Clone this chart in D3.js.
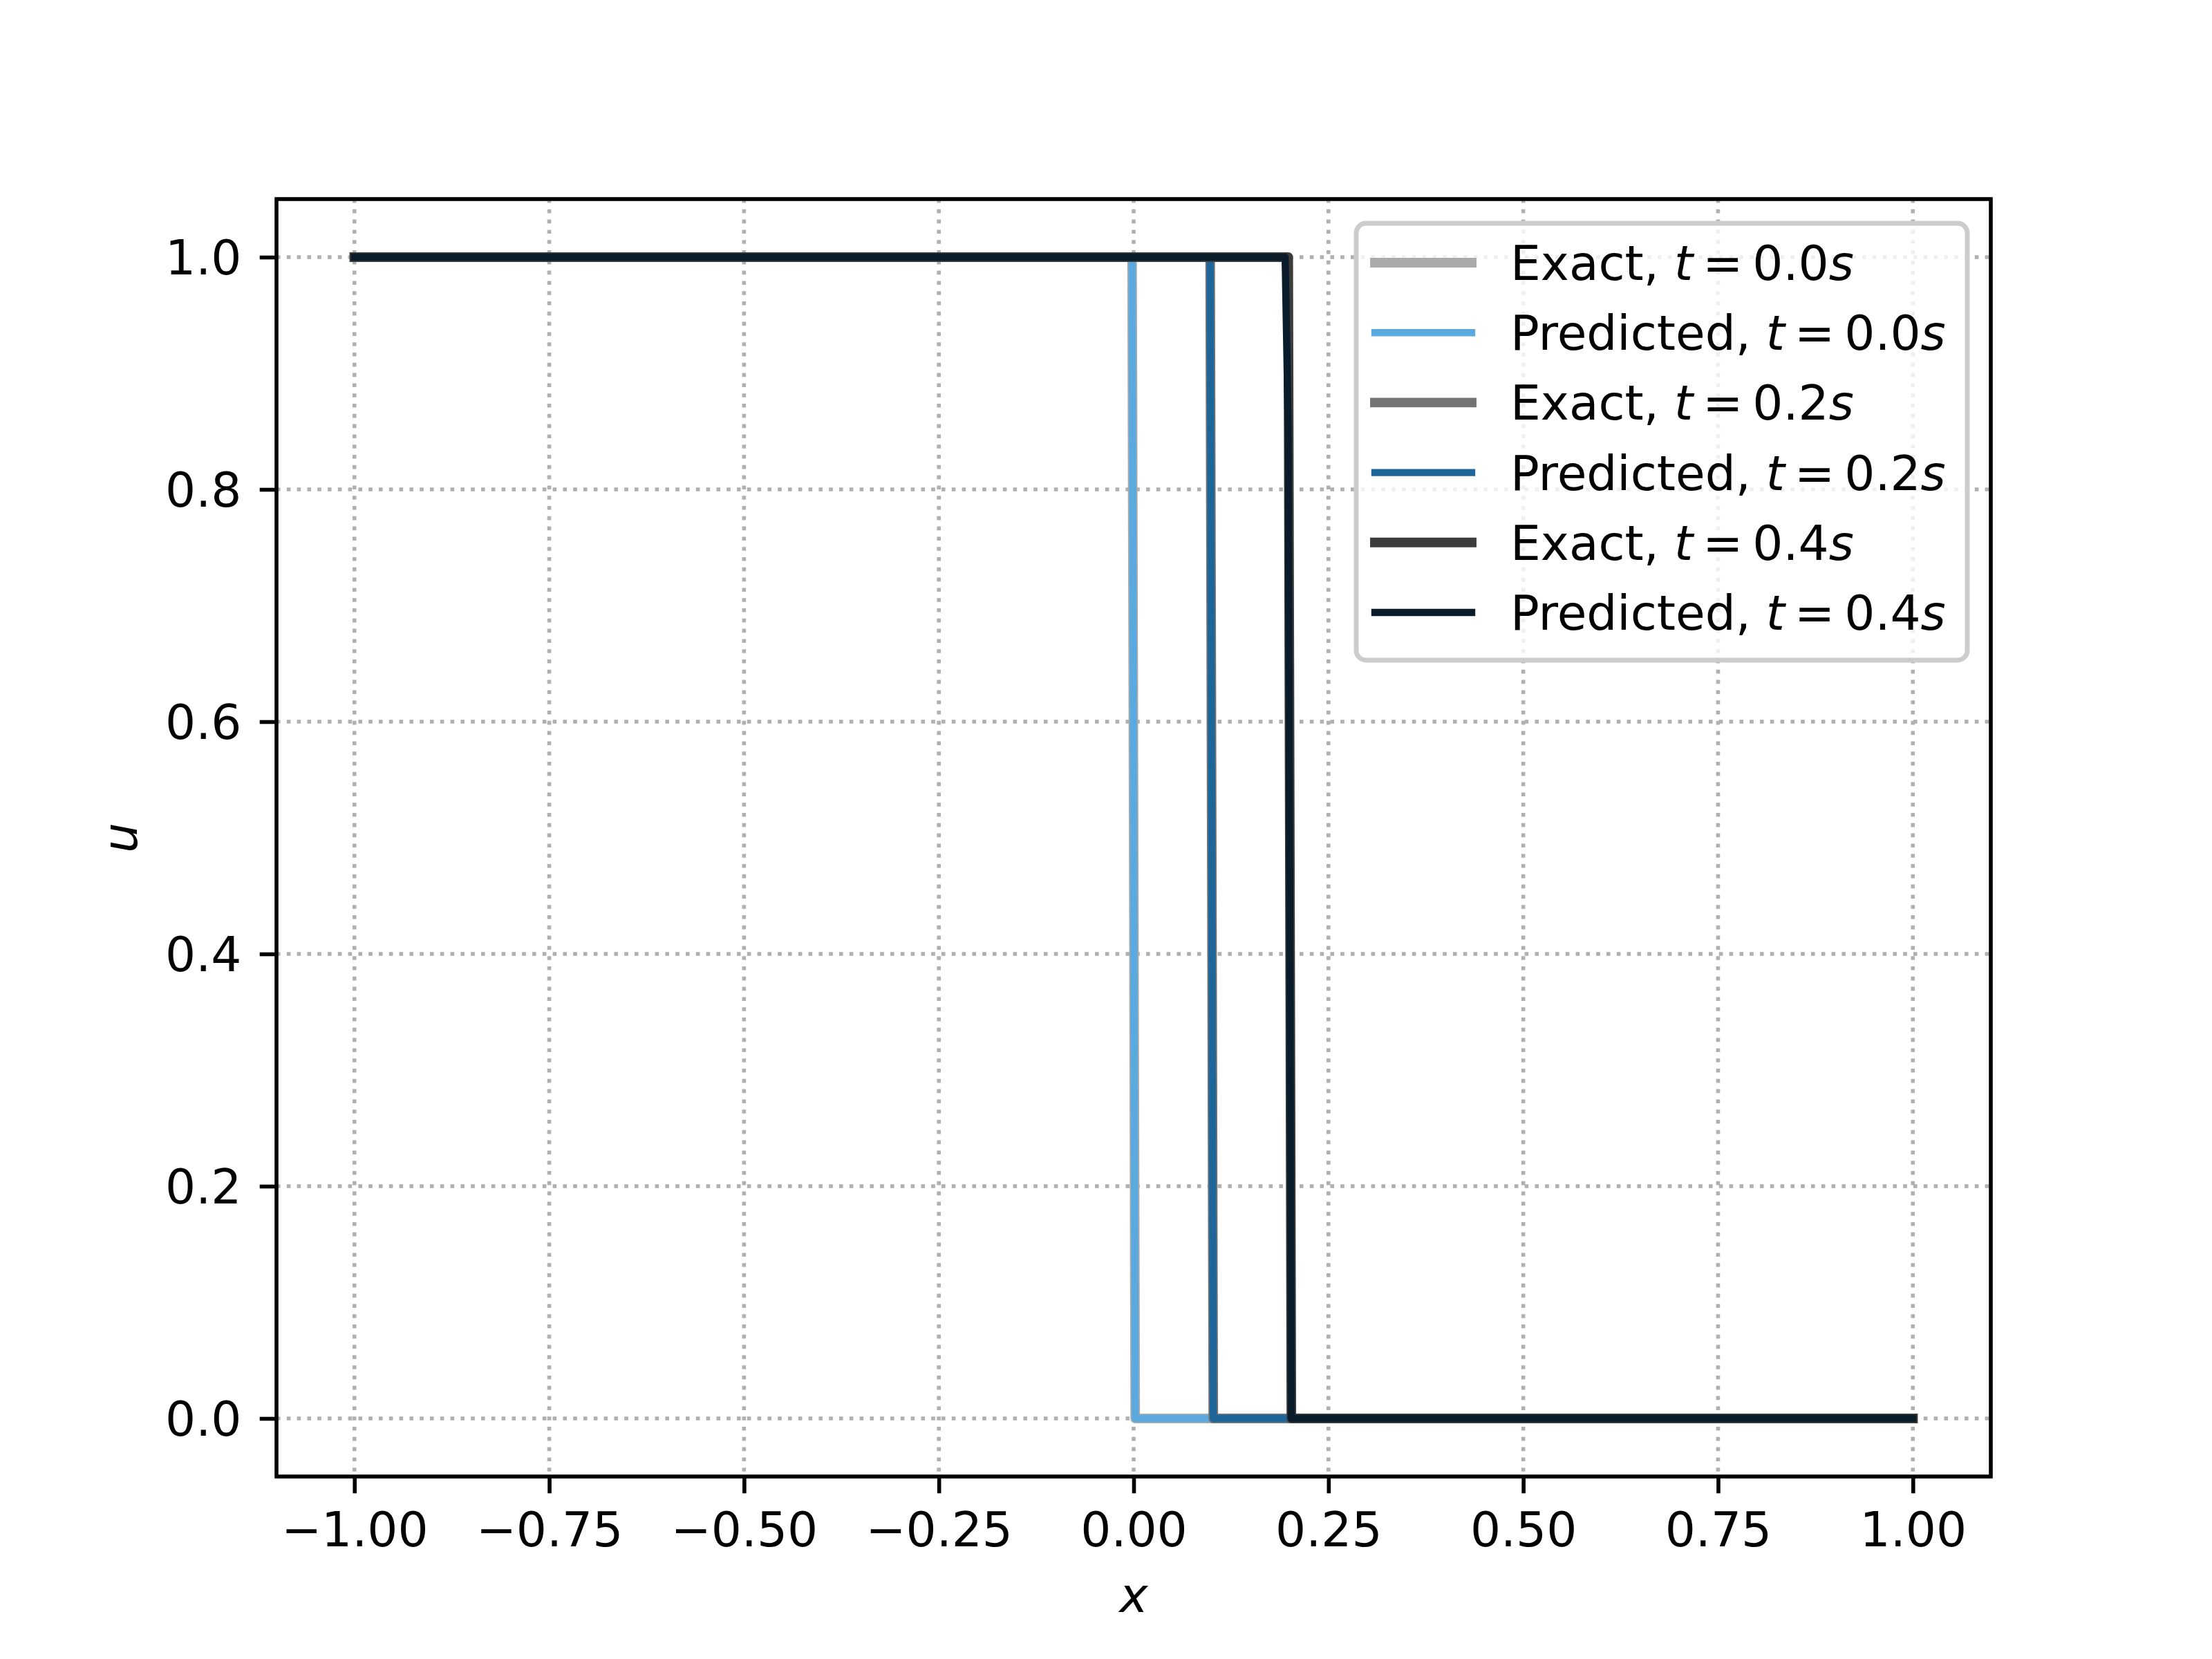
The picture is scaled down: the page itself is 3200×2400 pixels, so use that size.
<!DOCTYPE html>
<html>
<head>
<meta charset="utf-8">
<script src="https://cdn.jsdelivr.net/npm/d3@7"></script>
<style>
  html, body { margin: 0; padding: 0; background: #ffffff; }
  svg { display: block; }
  text { font-family: "DejaVu Sans", sans-serif; fill: #000; }
</style>
</head>
<body>
<svg id="chart" width="3200" height="2400"></svg>
<script>
// ---------------- data (vertices of the piecewise-linear profiles) ----------------
const exact0X = [-1, -0.002, 0.002, 1];
const exact0U = [1, 1, 0, 0];
const pred0X  = [-1, -0.002, 0.002, 1];
const pred0U  = [1, 1, 0, 0];
const exact2X = [-1, 0.0982, 0.1022, 1];
const exact2U = [1, 1, 0, 0];
const pred2X  = [-1, 0.0982, 0.1022, 1];
const pred2U  = [1, 1, 0, 0];
const exact4X = [-1, 0.1984, 0.2024, 1];
const exact4U = [1, 1, 0, 0];
const pred4X  = [-1, 0.1944, 0.1984, 0.2024, 1];
const pred4U  = [1, 1, 0.85, 0, 0];

const seriesNames  = ["Exact", "Predicted", "Exact", "Predicted", "Exact", "Predicted"];
const seriesTimes  = ["0.0", "0.0", "0.2", "0.2", "0.4", "0.4"];
const seriesColors = ["#aaaaaa", "#5aaae0", "#747474", "#1e6699", "#3c3c3c", "#0a1b29"];
const seriesKinds  = ["exact", "pred", "exact", "pred", "exact", "pred"];
const seriesXs = [exact0X, pred0X, exact2X, pred2X, exact4X, pred4X];
const seriesUs = [exact0U, pred0U, exact2U, pred2U, exact4U, pred4U];

const xTicks = [-1.0, -0.75, -0.5, -0.25, 0.0, 0.25, 0.5, 0.75, 1.0];
const yTicks = [0.0, 0.2, 0.4, 0.6, 0.8, 1.0];
const xDomain = [-1.1, 1.1];
const yDomain = [-0.05, 1.05];

// ---------------- layout ----------------
const L = 400, R = 2880, T = 288, B = 2136;
const FS = 69.4;                // 10pt @ 500dpi
const lwSpine = 5.6, tickLen = 24.3, pad = 24.3;
const lwExact = 13.9, lwPred = 10.4;

const svg = d3.select("#chart");
const x = d3.scaleLinear().domain(xDomain).range([L, R]);
const y = d3.scaleLinear().domain(yDomain).range([B, T]);

const fmtX = v => d3.format(".2f")(v).replace("-", "\u2212");
const fmtY = v => d3.format(".1f")(v).replace("-", "\u2212");

// grid
const grid = svg.append("g");
grid.selectAll("line.gx").data(xTicks).enter().append("line")
  .attr("x1", d => x(d)).attr("x2", d => x(d)).attr("y1", T).attr("y2", B)
  .attr("stroke", "#b0b0b0").attr("stroke-width", 5.6).attr("stroke-dasharray", "5.6 9.2");
grid.selectAll("line.gy").data(yTicks).enter().append("line")
  .attr("y1", d => y(d)).attr("y2", d => y(d)).attr("x1", L).attr("x2", R)
  .attr("stroke", "#b0b0b0").attr("stroke-width", 5.6).attr("stroke-dasharray", "5.6 9.2");

// lines
svg.append("defs").append("clipPath").attr("id", "clip")
  .append("rect").attr("x", L).attr("y", T).attr("width", R - L).attr("height", B - T);
const line = d3.line().x(d => x(d[0])).y(d => y(d[1]));
const lines = svg.append("g").attr("clip-path", "url(#clip)");
seriesXs.forEach((xs, i) => {
  const pts = xs.map((v, j) => [v, seriesUs[i][j]]);
  lines.append("path").attr("d", line(pts))
    .attr("fill", "none").attr("stroke", seriesColors[i])
    .attr("stroke-width", seriesKinds[i] === "exact" ? lwExact : lwPred)
    .attr("stroke-linejoin", "round").attr("stroke-linecap", "square");
});

// axes
const xAxis = d3.axisBottom(x).tickValues(xTicks).tickFormat(fmtX)
  .tickSizeInner(tickLen).tickSizeOuter(0).tickPadding(pad);
const yAxis = d3.axisLeft(y).tickValues(yTicks).tickFormat(fmtY)
  .tickSizeInner(tickLen).tickSizeOuter(0).tickPadding(pad);
const gx = svg.append("g").attr("transform", `translate(0,${B})`).call(xAxis);
const gy = svg.append("g").attr("transform", `translate(${L},0)`).call(yAxis);
[gx, gy].forEach(g => {
  g.select(".domain").remove();
  g.selectAll(".tick line").attr("stroke", "#000").attr("stroke-width", lwSpine);
  g.selectAll(".tick text").attr("font-family", "DejaVu Sans").attr("font-size", FS).attr("fill", "#000");
});
gx.selectAll(".tick text").attr("dy", null).attr("y", 2237 - B).attr("dominant-baseline", "alphabetic");
gy.selectAll(".tick text").attr("x", -(tickLen + pad + 2)).attr("dy", "0.36em");

// spines
svg.append("rect").attr("x", L).attr("y", T).attr("width", R - L).attr("height", B - T)
  .attr("fill", "none").attr("stroke", "#000").attr("stroke-width", lwSpine)
  .attr("stroke-linejoin", "miter");

// axis labels
svg.append("text").attr("x", (L + R) / 2).attr("y", 2332).attr("text-anchor", "middle")
  .attr("font-size", FS).attr("font-style", "italic").text("x");
svg.append("text").attr("transform", `translate(198,${(T + B) / 2}) rotate(-90)`)
  .attr("text-anchor", "middle").attr("font-size", FS).attr("font-style", "italic").text("u");

// legend
const lg = svg.append("g");
const lgX0 = 1962, lgY0 = 323, lgW = 884, lgH = 632;
lg.append("rect").attr("x", lgX0).attr("y", lgY0).attr("width", lgW).attr("height", lgH)
  .attr("rx", 14).attr("ry", 14)
  .attr("fill", "#ffffff").attr("fill-opacity", 0.8)
  .attr("stroke", "#cccccc").attr("stroke-width", 6.9);
const rowY0 = 380, rowDy = 101.2;
seriesNames.forEach((nm, i) => {
  const cy = rowY0 + i * rowDy;
  lg.append("line").attr("x1", 1989).attr("x2", 2129).attr("y1", cy).attr("y2", cy)
    .attr("stroke", seriesColors[i])
    .attr("stroke-width", seriesKinds[i] === "exact" ? lwExact : lwPred)
    .attr("stroke-linecap", "square");
  const t = lg.append("text").attr("x", 2185).attr("y", cy + 25).attr("font-size", FS);
  t.append("tspan").text(nm + ", ");
  t.append("tspan").attr("font-style", "italic").text("t");
  t.append("tspan").attr("dx", 14).text("=");
  t.append("tspan").attr("dx", 14).text(seriesTimes[i]);
  t.append("tspan").attr("font-style", "italic").text("s");
});
</script>
</body>
</html>
